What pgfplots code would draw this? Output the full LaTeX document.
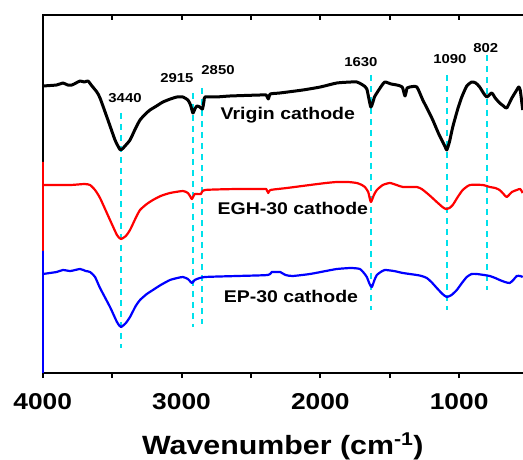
\documentclass[border=0pt]{standalone}
\usepackage{fontspec}
\setmainfont{Liberation Sans}[FakeStretch=1.15]
\usepackage{pgfplots}
\pgfplotsset{compat=1.18}
\usetikzlibrary{calc}
\definecolor{dcyan}{RGB}{0,225,235}
\begin{document}
\begin{tikzpicture}
\pgfplotsset{ftir/.style={
  width=480.3bp, height=358bp, scale only axis,
  xmin=540, xmax=4000, x dir=reverse, ymin=0, ymax=358,
}}
\begin{axis}[ftir, name=ax, clip=false,
  separate axis lines,
  axis x line=box, axis y line=left,
  axis line style={-, line width=2bp, line cap=rect},
  xtick={1000,2000,3000,4000}, minor xtick={1500,2500,3500},
  xtick pos=lower, tick align=outside,
  major tick length=5bp, minor tick length=5bp,
  every tick/.style={black, line width=2bp},
  ytick=\empty,
  /pgf/number format/1000 sep={},
  /pgf/number format/assume math mode=true,
  xticklabel style={font=\fontsize{23}{23}\selectfont\bfseries, yshift=-12bp},
  xlabel={Wavenumber (cm\textsuperscript{-1})},
  xlabel style={font=\fontsize{26.5}{26.5}\selectfont\bfseries, yshift=-16bp},
]
% reference dashed lines
\addplot[dcyan, line width=2bp, dash pattern=on 6bp off 5bp] coordinates {(3438,260) (3438,25)};
\addplot[dcyan, line width=2bp, dash pattern=on 6bp off 5bp] coordinates {(2918,280) (2918,46)};
\addplot[dcyan, line width=2bp, dash pattern=on 6bp off 5bp] coordinates {(2849,285) (2849,49)};
\addplot[dcyan, line width=2bp, dash pattern=on 6bp off 5bp] coordinates {(1636,298) (1636,63)};
\addplot[dcyan, line width=2bp, dash pattern=on 6bp off 5bp] coordinates {(1089,298) (1089,63)};
\addplot[dcyan, line width=2bp, dash pattern=on 6bp off 5bp] coordinates {(801,318) (801,83)};
% virgin
\addplot[black, line width=3bp, line join=round, smooth, tension=0.35] coordinates {
(4000,287) (3900,288) (3854,290) (3820,288) (3789,288) (3760,290) (3731,292) (3700,291) (3674,292) (3645,287) (3610,281) (3587,275)
(3530,253) (3479,233) (3450,225) (3438,223) (3420,225) (3407,227) (3371,233) (3330,245) (3299,253) (3260,259) (3227,263)
(3180,267) (3134,271) (3080,274) (3033,276) (2990,276) (2954,273) (2935,268) (2918,260) (2904,264)
(2889,267) (2868,266) (2849,264) (2838,272) (2831,276) (2750,276) (2651,277) (2435,278) (2390,278)
(2375,274) (2360,279) (2292,280) (2126,283) (2000,286) (1881,290) (1780,291) (1737,291) (1694,288)
(1665,284) (1636,266) (1610,276) (1593,280) (1560,287) (1535,291) (1490,289) (1449,288) (1410,286) (1390,277)
(1375,285) (1356,286) (1305,286) (1262,273) (1225,263) (1190,253) (1150,240) (1125,233) (1100,226) (1089,223) (1070,231) (1046,246)
(1010,264) (981,276) (945,287) (909,291) (880,290) (852,286) (825,280) (801,276) (765,280) (740,275) (708,270) (680,267) (657,265)
(620,275) (585,283) (571,286) (560,283) (542,263)};
% EGH-30
\addplot[red, line width=2.2bp] coordinates {(4000,122) (4000,211) (4000,188)};
\addplot[red, line width=2.2bp, line join=round, smooth, tension=0.35] coordinates {
(4000,188) (3800,188) (3700,189) (3659,188) (3623,183) (3587,175) (3515,153)
(3465,138) (3437,134) (3401,137) (3371,143) (3330,155) (3299,163) (3250,169) (3206,173) (3150,177) (3083,180)
(2990,182) (2954,180) (2935,176) (2925,174) (2905,179) (2889,179) (2860,179) (2831,183) (2600,184) (2414,184)
(2390,184) (2375,180) (2360,183) (2241,185) (2075,188) (1960,190) (1881,191) (1800,191) (1737,190)
(1700,188) (1679,186) (1655,181) (1636,171) (1614,178) (1593,183) (1550,188) (1499,190) (1450,188) (1405,186)
(1305,186) (1270,184) (1233,180) (1200,176) (1161,171) (1120,166) (1096,164) (1070,165) (1046,168) (1010,176) (974,183) (923,188)
(830,188) (779,186) (740,185) (708,183) (680,179) (657,176) (620,181) (585,183) (560,184) (542,180)};
% EP-30
\addplot[blue, line width=2.2bp] coordinates {(4000,0) (4000,122) (4000,99)};
\addplot[blue, line width=2.2bp, line join=round, smooth, tension=0.35] coordinates {
(4000,99) (3900,101) (3854,103) (3800,102) (3731,104) (3690,102) (3659,101) (3623,96)
(3587,85) (3515,66) (3465,51) (3437,46) (3401,50) (3371,56) (3330,67) (3299,73) (3250,79)
(3206,83) (3150,88) (3083,93) (3030,95) (2990,96) (2954,94) (2925,90) (2905,93) (2889,94) (2831,96)
(2600,97) (2380,98) (2350,101) (2320,101) (2290,101) (2250,98) (2200,97) (2075,99) (1960,102) (1881,104) (1780,105) (1715,104)
(1680,99) (1665,96) (1645,89) (1629,86) (1610,93) (1593,98) (1565,101) (1535,103) (1470,102) (1405,100) (1305,98) (1270,97) (1233,95)
(1200,91) (1161,85) (1120,79) (1089,76) (1055,78) (1017,83) (980,90) (945,96) (910,99) (873,99) (820,98) (779,97) (740,95) (708,93)
(670,91) (636,90) (610,93) (585,97) (560,97) (542,96)};
% labels
\node[font=\fontsize{13}{13}\selectfont\bfseries] at (axis cs:3407,275) {3440};
\node[font=\fontsize{13}{13}\selectfont\bfseries] at (axis cs:3033,295) {2915};
\node[font=\fontsize{13}{13}\selectfont\bfseries] at (axis cs:2737,303) {2850};
\node[font=\fontsize{13}{13}\selectfont\bfseries] at (axis cs:1708,311) {1630};
\node[font=\fontsize{13}{13}\selectfont\bfseries] at (axis cs:1067,314) {1090};
\node[font=\fontsize{13}{13}\selectfont\bfseries] at (axis cs:808,325) {802};
\node[font=\fontsize{17}{17}\selectfont\bfseries] at (axis cs:2234,258) {Vrigin cathode};
\node[font=\fontsize{17}{17}\selectfont\bfseries] at (axis cs:2198,165) {EGH-30 cathode};
\node[font=\fontsize{17}{17}\selectfont\bfseries] at (axis cs:2212,77) {EP-30 cathode};
\end{axis}
\begin{axis}[ftir,
  axis x line*=top, axis y line=none,
  axis line style={draw=none},
  xtick={1000,2000,3000,4000}, minor xtick={1500,2500,3500},
  tick align=inside, xticklabels={},
  major tick length=5bp, minor tick length=5bp,
  every tick/.style={black, line width=2bp},
]
\end{axis}
\pgfresetboundingbox
\path ($(ax.south west)+(-42.7bp,-87bp)$) rectangle ($(ax.north east)+(0bp,15bp)$);
\end{tikzpicture}
\end{document}
